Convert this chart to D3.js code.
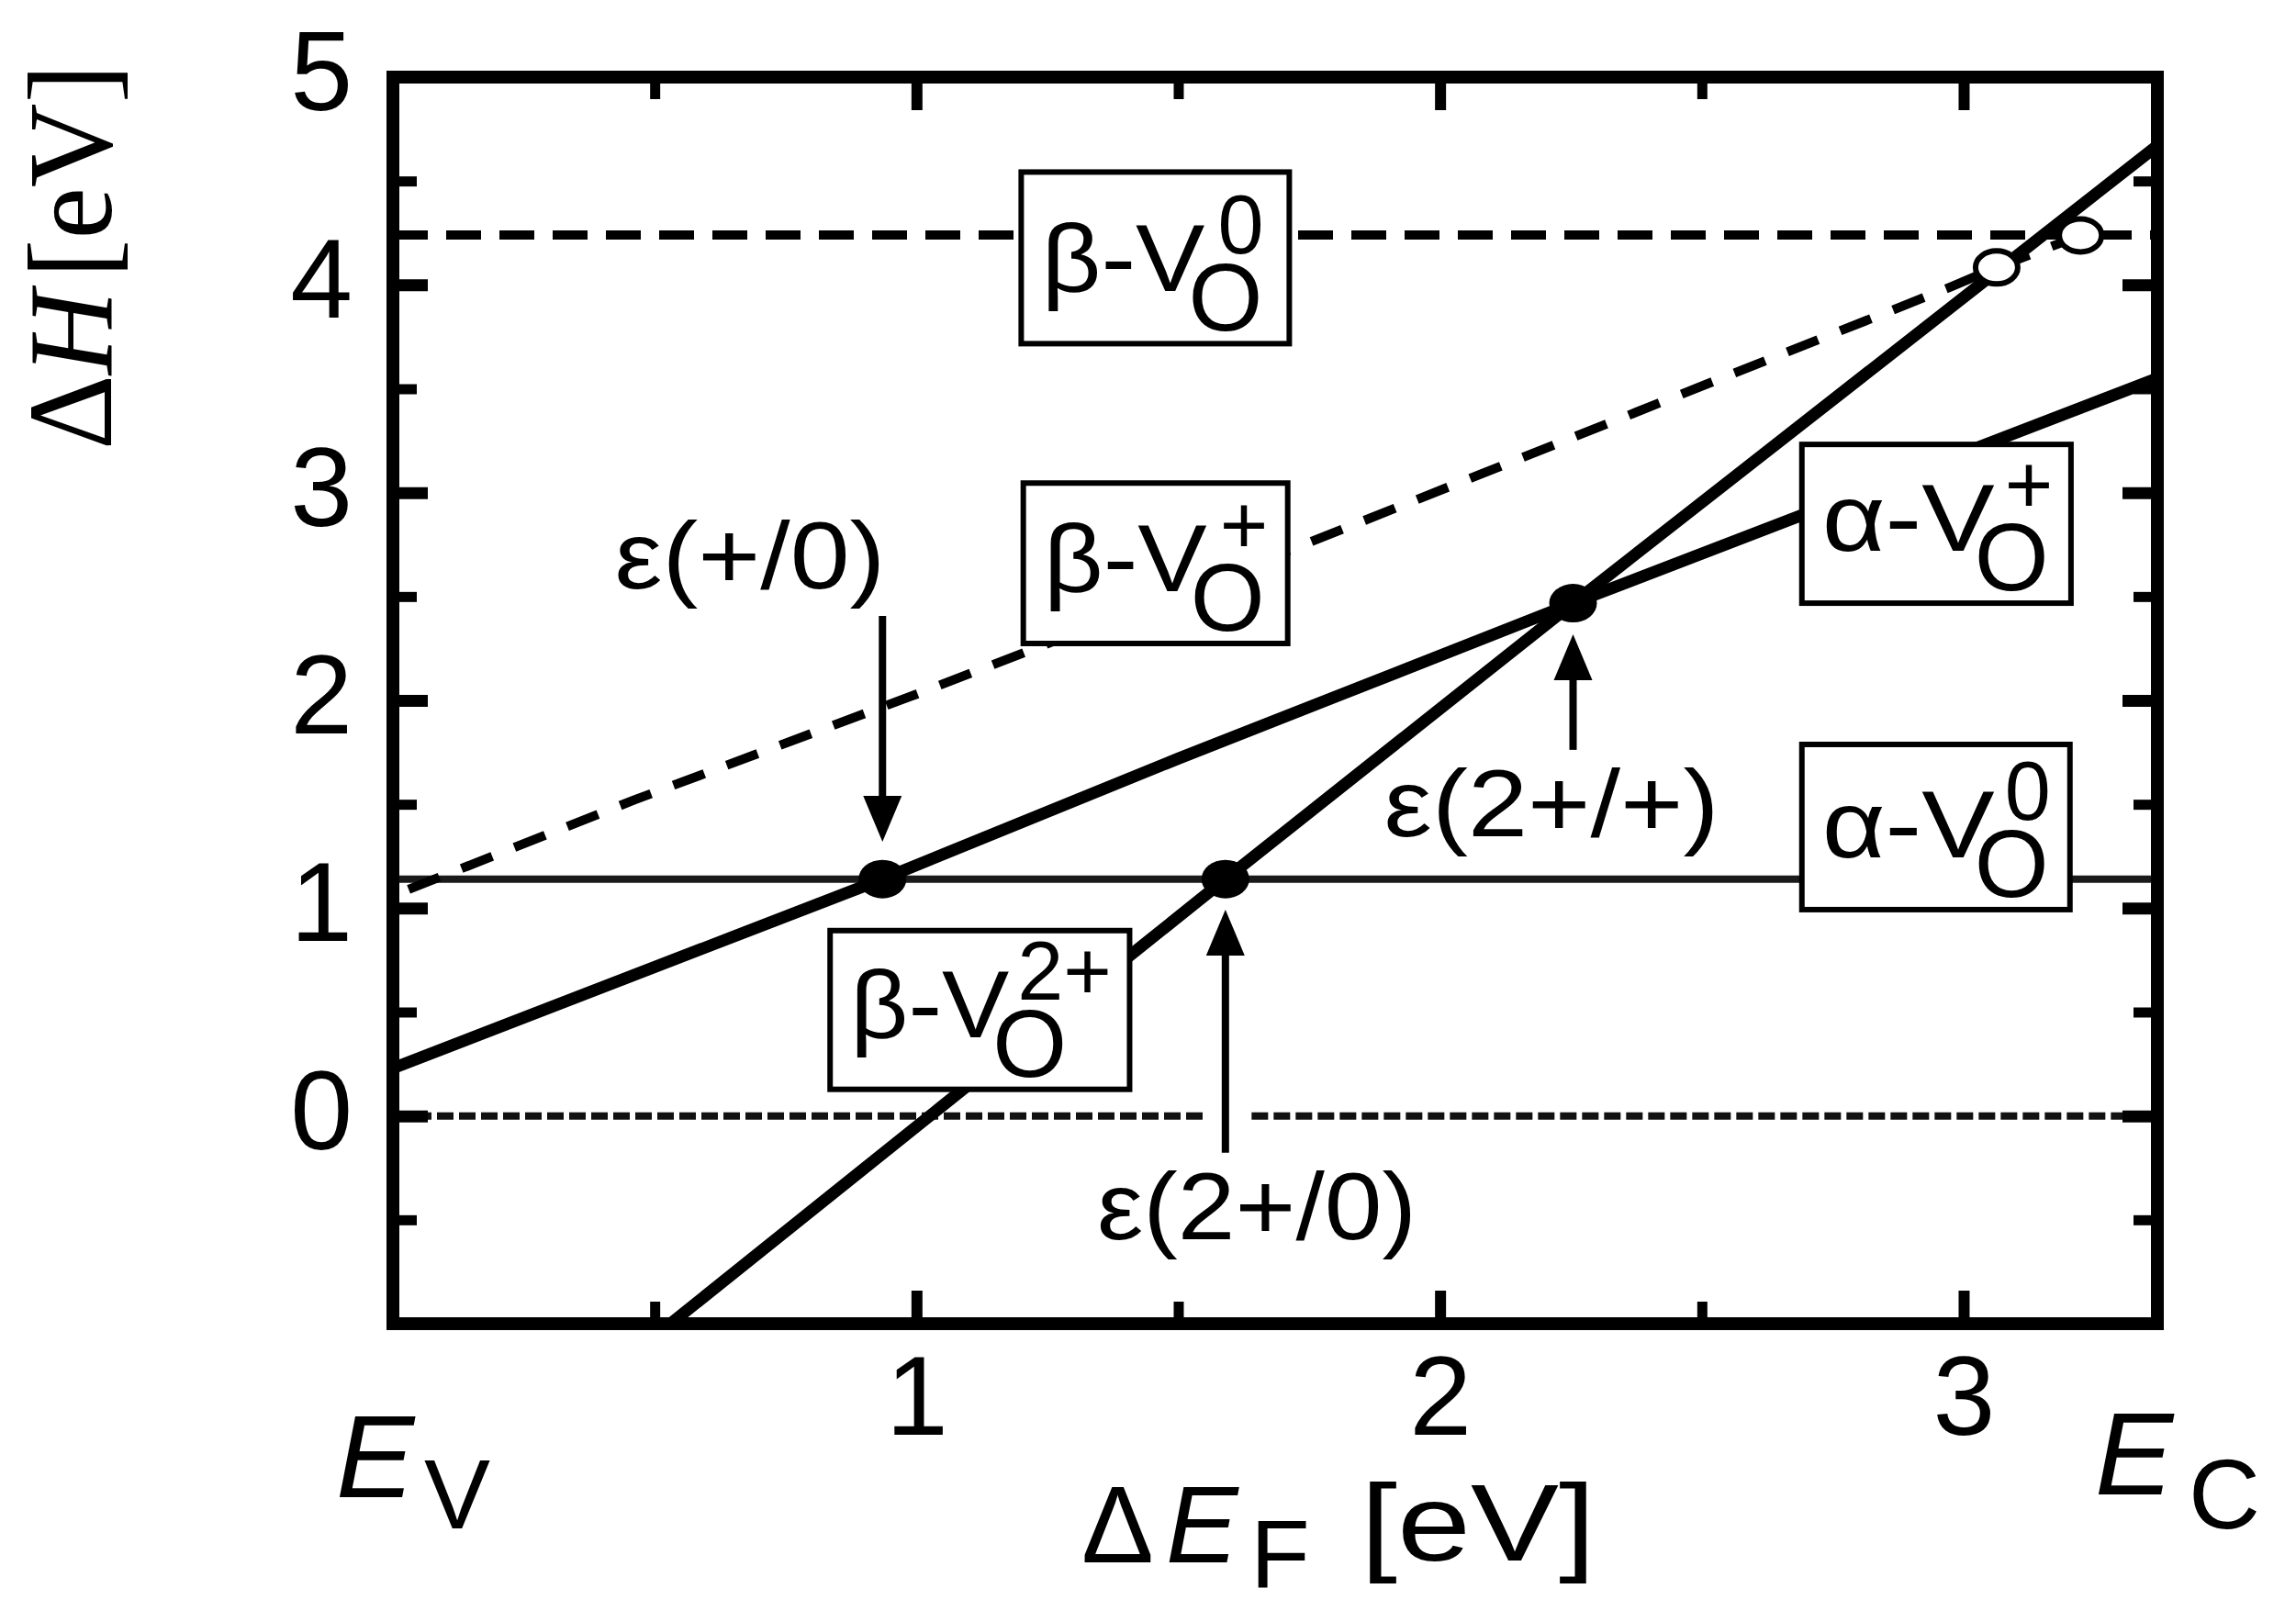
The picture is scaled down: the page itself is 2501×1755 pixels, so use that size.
<!DOCTYPE html>
<html>
<head>
<meta charset="utf-8">
<script src="https://cdn.jsdelivr.net/npm/d3@7"></script>
<style>
  html, body { margin: 0; padding: 0; background: #fff; }
  svg { display: block; }
</style>
</head>
<body>
<svg id="chart" width="2501" height="1755"></svg>
<script>
// ---------------- data (eV) ----------------
const xTicksMajor = [1, 2, 3];
const xTicksMinor = [0.5, 1.5, 2.5];
const yTicksMajor = [0, 1, 2, 3, 4, 5];
const yTicksMinor = [-0.5, 0.5, 1.5, 2.5, 3.5, 4.5];

const alphaV0    = [[0, 1.14], [3.37, 1.14]];
const alphaVplus = [[0, 0.23], [0.935, 1.14], [1.5, 1.72], [2.254, 2.468], [3.37, 3.55]];
const betaV2plus = [[0.53, -1], [1.59, 1.14], [2.254, 2.468], [3.37, 4.67]];
const betaVplus  = [[0.03, 1.09], [0.46, 1.52], [1.0, 2.03], [1.73, 2.74], [2.975, 3.99], [3.063, 4.084], [3.223, 4.238]];
const betaV0     = [[0, 4.24], [3.37, 4.24]];
const zeroLine   = [[[0, 0], [1.55, 0]], [[1.64, 0], [3.37, 0]]];

const filledPoints = [[0.935, 1.14], [1.59, 1.14], [2.254, 2.468]];
const openPoints   = [[3.063, 4.084], [3.223, 4.238]];

// transition-level arrows: x, tail y, tip y
const arrows = [
  { x: 0.935, from: 2.406, to: 1.32 },
  { x: 1.59,  from: -0.177, to: 0.993 },
  { x: 2.254, from: 1.762, to: 2.318 }
];
const arrowLabels = [
  { text: "ε(+/0)",  x: 0.682, y: 2.54,  len: 295 },
  { text: "ε(2+/+)", x: 2.213, y: 1.346, len: 365 },
  { text: "ε(2+/0)", x: 1.650, y: -0.593, len: 348 }
];

// labelled boxes (data-space corners)
const boxes = [
  { phase: "β", charge: "0",  x0: 1.200, x1: 1.712, y0: 4.543, y1: 3.717, mainLen: 178, oDx: 182, supDx: 214 },
  { phase: "β", charge: "+",  x0: 1.204, x1: 1.709, y0: 3.046, y1: 2.274, mainLen: 178, oDx: 182, supDx: 214 },
  { phase: "α", charge: "+",  x0: 2.691, x1: 3.205, y0: 3.232, y1: 2.468, mainLen: 188, oDx: 188, supDx: 221 },
  { phase: "α", charge: "0",  x0: 2.691, x1: 3.203, y0: 1.788, y1: 0.993, mainLen: 188, oDx: 188, supDx: 221 },
  { phase: "β", charge: "2+", x0: 0.835, x1: 1.407, y0: 0.892, y1: 0.128, mainLen: 173, oDx: 177, supDx: 204 }
];

// ---------------- layout ----------------
const svg = d3.select("#chart");
const L = 428, R = 2350, T = 84, B = 1442;
const x = d3.scaleLinear().domain([0, 3.37]).range([L, R]);
const y = d3.scaleLinear().domain([-1, 5]).range([B, T]);
const SANS = "'Liberation Sans', Arial, Helvetica, sans-serif";
const SERIF = "'Liberation Serif', 'Times New Roman', serif";

svg.append("rect").attr("width", 2501).attr("height", 1755).attr("fill", "#fff");

svg.append("defs").append("clipPath").attr("id", "plotclip")
  .append("rect").attr("x", L).attr("y", T).attr("width", R - L).attr("height", B - T);

const plot = svg.append("g").attr("clip-path", "url(#plotclip)");
const line = d3.line().x(d => x(d[0])).y(d => y(d[1]));

// zero reference (dotted)
zeroLine.forEach(seg => {
  plot.append("path").attr("d", line(seg)).attr("fill", "none")
    .attr("stroke", "#111").attr("stroke-width", 8).attr("stroke-dasharray", "18 6");
});
// alpha V0 (thin solid)
plot.append("path").attr("d", line(alphaV0)).attr("fill", "none")
  .attr("stroke", "#1a1a1a").attr("stroke-width", 8);
// beta V0 (dashed)
plot.append("path").attr("d", line(betaV0)).attr("fill", "none")
  .attr("stroke", "#000").attr("stroke-width", 10).attr("stroke-dasharray", "38 20");
// beta V+ (dashed)
plot.append("path").attr("d", line(betaVplus)).attr("fill", "none")
  .attr("stroke", "#000").attr("stroke-width", 10).attr("stroke-dasharray", "36 26");
// alpha V+ (solid)
plot.append("path").attr("d", line(alphaVplus)).attr("fill", "none")
  .attr("stroke", "#000").attr("stroke-width", 13).attr("stroke-linejoin", "round");
// beta V2+ (solid)
plot.append("path").attr("d", line(betaV2plus)).attr("fill", "none")
  .attr("stroke", "#000").attr("stroke-width", 13).attr("stroke-linejoin", "round");

// ---------------- axes ----------------
function styleAxis(g, width) {
  g.select(".domain").remove();
  g.selectAll(".tick line").attr("stroke", "#000").attr("stroke-width", width);
  g.selectAll(".tick text").attr("font-family", SANS).attr("font-size", 122).attr("fill", "#000");
}
svg.append("g").attr("transform", `translate(0,${B})`)
  .call(d3.axisBottom(x).tickValues(xTicksMajor).tickSize(-36).tickPadding(34).tickFormat(d3.format("d")))
  .call(g => styleAxis(g, 12));
svg.append("g").attr("transform", `translate(0,${B})`)
  .call(d3.axisBottom(x).tickValues(xTicksMinor).tickSize(-24).tickFormat(""))
  .call(g => styleAxis(g, 11));
svg.append("g").attr("transform", `translate(0,${T})`)
  .call(d3.axisTop(x).tickValues(xTicksMajor).tickSize(-36).tickFormat(""))
  .call(g => styleAxis(g, 12));
svg.append("g").attr("transform", `translate(0,${T})`)
  .call(d3.axisTop(x).tickValues(xTicksMinor).tickSize(-24).tickFormat(""))
  .call(g => styleAxis(g, 11));
svg.append("g").attr("transform", `translate(${L},0)`)
  .call(d3.axisLeft(y).tickValues(yTicksMajor).tickSize(-38).tickPadding(44).tickFormat(d3.format("d")))
  .call(g => styleAxis(g, 13))
  .call(g => g.selectAll(".tick text").attr("dy", "0.29em"));
svg.append("g").attr("transform", `translate(${L},0)`)
  .call(d3.axisLeft(y).tickValues(yTicksMinor).tickSize(-26).tickFormat(""))
  .call(g => styleAxis(g, 11));
svg.append("g").attr("transform", `translate(${R},0)`)
  .call(d3.axisRight(y).tickValues(yTicksMajor).tickSize(-38).tickFormat(""))
  .call(g => styleAxis(g, 13));
svg.append("g").attr("transform", `translate(${R},0)`)
  .call(d3.axisRight(y).tickValues(yTicksMinor).tickSize(-26).tickFormat(""))
  .call(g => styleAxis(g, 11));

// frame
svg.append("rect").attr("x", L).attr("y", T).attr("width", R - L).attr("height", B - T)
  .attr("fill", "none").attr("stroke", "#000").attr("stroke-width", 14);

// ---------------- boxes ----------------
boxes.forEach(b => {
  const bx = x(b.x0), by = y(b.y0), bw = x(b.x1) - x(b.x0), bh = y(b.y1) - y(b.y0);
  const bottom = by + bh;
  const g = svg.append("g");
  g.append("rect").attr("x", bx).attr("y", by).attr("width", bw).attr("height", bh)
    .attr("fill", "#fff").attr("stroke", "#000").attr("stroke-width", 6);
  const t = g.append("text").attr("font-family", SANS).attr("font-size", 104).attr("fill", "#000");
  t.append("tspan").attr("x", bx + 22).attr("y", bottom - 57)
    .attr("textLength", b.mainLen).attr("lengthAdjust", "spacingAndGlyphs").text(b.phase + "-V");
  t.append("tspan").attr("x", bx + b.oDx).attr("y", bottom - 14).text("O");
  t.append("tspan").attr("x", bx + b.supDx).attr("y", bottom - 98).attr("font-size", 90).text(b.charge);
});

// ---------------- markers ----------------
svg.selectAll("ellipse.filled").data(filledPoints).join("ellipse")
  .attr("class", "filled")
  .attr("cx", d => x(d[0])).attr("cy", d => y(d[1]))
  .attr("rx", 26).attr("ry", 21).attr("fill", "#000");
svg.selectAll("ellipse.open").data(openPoints).join("ellipse")
  .attr("class", "open")
  .attr("cx", d => x(d[0])).attr("cy", d => y(d[1]))
  .attr("rx", 23).attr("ry", 18).attr("fill", "#fff").attr("stroke", "#000").attr("stroke-width", 6);

// ---------------- arrows ----------------
arrows.forEach(a => {
  const ax = x(a.x), y0 = y(a.from), y1 = y(a.to);
  const dir = Math.sign(y1 - y0);
  const headLen = 50, headHalf = 21;
  svg.append("line").attr("x1", ax).attr("x2", ax).attr("y1", y0).attr("y2", y1 - dir * headLen)
    .attr("stroke", "#000").attr("stroke-width", 8);
  svg.append("path")
    .attr("d", `M${ax},${y1} L${ax - headHalf},${y1 - dir * headLen} L${ax + headHalf},${y1 - dir * headLen} Z`)
    .attr("fill", "#000");
});
arrowLabels.forEach(l => {
  svg.append("text").attr("x", x(l.x)).attr("y", y(l.y))
    .attr("text-anchor", "middle").attr("font-family", SANS).attr("font-size", 104)
    .attr("textLength", l.len).attr("lengthAdjust", "spacingAndGlyphs")
    .text(l.text);
});

// ---------------- axis titles ----------------
// y title: ΔH [eV]
const yt = svg.append("text").attr("transform", "translate(121,490) rotate(-90)")
  .attr("font-family", SERIF).attr("font-size", 132)
  .attr("textLength", 420).attr("lengthAdjust", "spacingAndGlyphs");
yt.append("tspan").text("Δ");
yt.append("tspan").attr("font-style", "italic").text("H");
yt.append("tspan").attr("dx", 14).text("[eV]");

// x title: ΔE_F [eV]
const xt = svg.append("text").attr("font-family", SANS).attr("font-size", 118).attr("fill", "#000");
xt.append("tspan").attr("x", 1178).attr("y", 1702).text("Δ");
xt.append("tspan").attr("x", 1270).attr("y", 1702).attr("font-style", "italic").text("E");
xt.append("tspan").attr("x", 1362).attr("y", 1730).attr("font-size", 106).text("F");
xt.append("tspan").attr("x", 1482).attr("y", 1700)
  .attr("textLength", 256).attr("lengthAdjust", "spacingAndGlyphs").text("[eV]");

// band edges
const ev = svg.append("text").attr("font-family", SANS).attr("fill", "#000");
ev.append("tspan").attr("x", 366).attr("y", 1631).attr("font-size", 128).attr("font-style", "italic").text("E");
ev.append("tspan").attr("x", 462).attr("y", 1665).attr("font-size", 108).text("V");
const ec = svg.append("text").attr("font-family", SANS).attr("fill", "#000");
ec.append("tspan").attr("x", 2282).attr("y", 1628).attr("font-size", 128).attr("font-style", "italic").text("E");
ec.append("tspan").attr("x", 2384).attr("y", 1665).attr("font-size", 108).text("C");
</script>
</body>
</html>
